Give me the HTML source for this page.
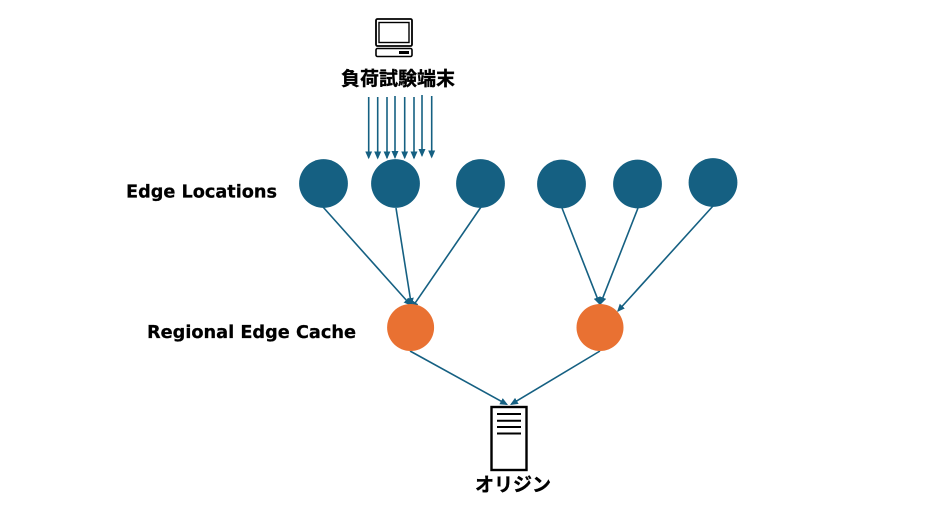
<!DOCTYPE html>
<html>
<head>
<meta charset="utf-8">
<style>
html,body{margin:0;padding:0;background:#fff;width:936px;height:520px;overflow:hidden}
svg{display:block}
.l{font-family:"DejaVu Sans","Liberation Sans",sans-serif;font-weight:700;font-size:18px;fill:#000;stroke:#000;stroke-width:.25}
.j{font-family:"Liberation Sans","Noto Sans CJK JP",sans-serif;font-weight:700;fill:#000;stroke:#000;stroke-width:.35}
</style>
</head>
<body>
<svg width="936" height="520" viewBox="0 0 936 520" xmlns="http://www.w3.org/2000/svg">
<defs>
<marker id="a" markerUnits="userSpaceOnUse" markerWidth="9" markerHeight="9" refX="6.500" refY="4" orient="auto">
<path d="M0 .5L8 4L0 7.500z" fill="#156082"/>
</marker>
</defs>
<g stroke="#156082" stroke-width="1.600" fill="none">
<line x1="368.700" y1="97" x2="368.700" y2="157.800" marker-end="url(#a)"/>
<line x1="377.700" y1="97" x2="377.700" y2="158" marker-end="url(#a)"/>
<line x1="387" y1="97" x2="387" y2="157.800" marker-end="url(#a)"/>
<line x1="395" y1="96" x2="395" y2="157.500" marker-end="url(#a)"/>
<line x1="404.700" y1="97" x2="404.700" y2="157.800" marker-end="url(#a)"/>
<line x1="414" y1="97" x2="414" y2="158" marker-end="url(#a)"/>
<line x1="422" y1="95" x2="422" y2="155.500" marker-end="url(#a)"/>
<line x1="431.700" y1="96" x2="431.700" y2="157" marker-end="url(#a)"/>
<line x1="323" y1="207" x2="410.500" y2="304.900" marker-end="url(#a)"/>
<line x1="396" y1="208" x2="411.300" y2="304.500" marker-end="url(#a)"/>
<line x1="481" y1="207" x2="411.850" y2="307.800" marker-end="url(#a)"/>
<line x1="562" y1="208" x2="599.450" y2="303.600" marker-end="url(#a)"/>
<line x1="638" y1="208" x2="600.550" y2="303.600" marker-end="url(#a)"/>
<line x1="713" y1="206" x2="618" y2="310.900" marker-end="url(#a)"/>
<line x1="410" y1="351" x2="506.700" y2="404.300" marker-end="url(#a)"/>
<line x1="600" y1="351" x2="511.300" y2="404.200" marker-end="url(#a)"/>
</g>
<g fill="#156082">
<circle cx="323.500" cy="183.500" r="24.400"/>
<circle cx="395.500" cy="183.500" r="24.400"/>
<circle cx="480.500" cy="183.500" r="24.400"/>
<circle cx="561.500" cy="184" r="24.400"/>
<circle cx="637.500" cy="184" r="24.400"/>
<circle cx="713" cy="182.500" r="24.400"/>
</g>
<g fill="#E97132">
<circle cx="410.600" cy="327.500" r="23.500"/>
<circle cx="600" cy="327.500" r="23.500"/>
</g>
<g fill="none" stroke="#000">
<rect x="376" y="19" width="36" height="27" rx="1.500" stroke-width="1.800"/>
<rect x="379" y="22.500" width="30" height="20" stroke-width="1.400"/>
<rect x="376" y="48.500" width="36" height="8" rx="1.500" stroke-width="1.600"/>
</g>
<rect x="399" y="51" width="10" height="3" fill="#000"/>
<rect x="491.500" y="407" width="35" height="63" fill="#fff" stroke="#000" stroke-width="2.400"/>
<g stroke="#000" stroke-width="2">
<line x1="497" y1="414" x2="521" y2="414"/>
<line x1="497" y1="420.700" x2="521" y2="420.700"/>
<line x1="497" y1="427" x2="521" y2="427"/>
<line x1="497" y1="433.500" x2="521" y2="433.500"/>
</g>
<text class="j" x="341" y="85" font-size="19" textLength="114" lengthAdjust="spacingAndGlyphs">負荷試験端末</text>
<text class="j" x="475" y="491" font-size="19" textLength="76" lengthAdjust="spacingAndGlyphs">オリジン</text>
<text class="l" x="126" y="197.500" textLength="151" lengthAdjust="spacingAndGlyphs">Edge Locations</text>
<text class="l" x="147" y="338" textLength="209" lengthAdjust="spacingAndGlyphs">Regional Edge Cache</text>
</svg>
</body>
</html>
